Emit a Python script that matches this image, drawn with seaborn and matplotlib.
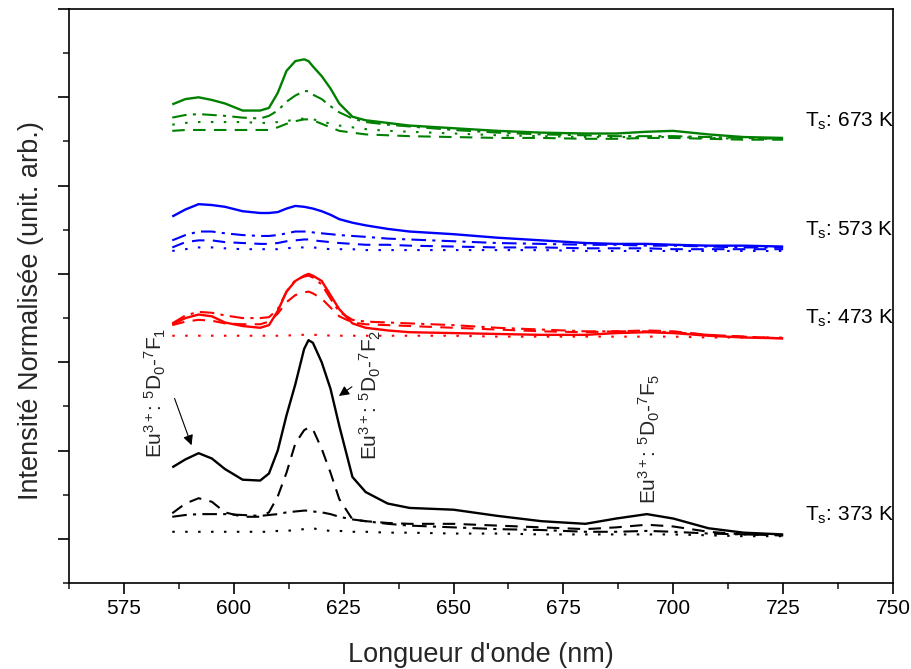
import numpy as np
import pandas as pd
import matplotlib
matplotlib.use("Agg")
import matplotlib.pyplot as plt
from matplotlib.ticker import MultipleLocator
import seaborn as sns

# Wavelength grid (nm) shared by all spectra
wavelength = [586, 589, 592, 595, 598, 602, 606, 608, 610, 612, 614, 616, 617, 618, 620,
              622, 624, 627, 630, 635, 640, 650, 660, 670, 680, 687, 694, 700, 708, 716, 725]

# Ts = 373 K (black)
k373_solid = [0.81, 0.90, 0.97, 0.91, 0.79, 0.67, 0.66, 0.74, 1.00, 1.40, 1.75, 2.15, 2.25, 2.22, 2.00,
              1.70, 1.28, 0.70, 0.53, 0.40, 0.35, 0.33, 0.26, 0.20, 0.17, 0.23, 0.28, 0.23, 0.12, 0.07, 0.05]
k373_dash = [0.29, 0.40, 0.46, 0.42, 0.30, 0.25, 0.25, 0.30, 0.48, 0.75, 1.08, 1.23, 1.26, 1.24, 1.02,
             0.75, 0.45, 0.22, 0.20, 0.18, 0.17, 0.17, 0.15, 0.13, 0.11, 0.13, 0.16, 0.14, 0.08, 0.05, 0.04]
k373_dashdot = [0.25, 0.27, 0.28, 0.28, 0.28, 0.27, 0.26, 0.27, 0.28, 0.30, 0.31, 0.32, 0.32, 0.31, 0.30,
                0.28, 0.25, 0.22, 0.20, 0.17, 0.15, 0.13, 0.11, 0.10, 0.08, 0.08, 0.09, 0.08, 0.06, 0.05, 0.04]
k373_dot = [0.08, 0.08, 0.08, 0.08, 0.08, 0.08, 0.08, 0.08, 0.09, 0.09, 0.10, 0.11, 0.12, 0.12, 0.10,
            0.09, 0.09, 0.08, 0.08, 0.07, 0.07, 0.06, 0.06, 0.05, 0.05, 0.05, 0.05, 0.05, 0.04, 0.03, 0.03]

# Ts = 473 K (red)
k473_solid = [2.43, 2.50, 2.54, 2.52, 2.45, 2.41, 2.39, 2.42, 2.58, 2.80, 2.92, 2.98, 3.00, 2.98, 2.92,
              2.76, 2.60, 2.44, 2.39, 2.36, 2.34, 2.33, 2.32, 2.31, 2.31, 2.33, 2.34, 2.33, 2.30, 2.28, 2.27]
k473_dash = [2.42, 2.46, 2.48, 2.47, 2.44, 2.43, 2.43, 2.46, 2.55, 2.68, 2.76, 2.79, 2.80, 2.78, 2.72,
             2.62, 2.52, 2.45, 2.43, 2.42, 2.41, 2.39, 2.37, 2.35, 2.34, 2.35, 2.36, 2.35, 2.31, 2.29, 2.27]
k473_dashdot = [2.44, 2.53, 2.57, 2.56, 2.53, 2.50, 2.50, 2.51, 2.60, 2.80, 2.93, 2.97, 2.98, 2.96, 2.88,
                2.72, 2.57, 2.48, 2.46, 2.45, 2.44, 2.42, 2.39, 2.37, 2.35, 2.35, 2.35, 2.34, 2.31, 2.29, 2.27]
k473_dot = [2.30, 2.30, 2.30, 2.30, 2.30, 2.30, 2.30, 2.30, 2.30, 2.30, 2.31, 2.31, 2.31, 2.31, 2.31,
            2.30, 2.30, 2.30, 2.30, 2.30, 2.30, 2.30, 2.29, 2.29, 2.29, 2.29, 2.29, 2.29, 2.28, 2.28, 2.28]

# Ts = 573 K (blue)
k573_solid = [3.65, 3.73, 3.79, 3.78, 3.76, 3.71, 3.69, 3.69, 3.70, 3.74, 3.77, 3.76, 3.75, 3.74, 3.71,
              3.67, 3.62, 3.58, 3.55, 3.51, 3.48, 3.45, 3.41, 3.38, 3.35, 3.34, 3.34, 3.33, 3.32, 3.32, 3.31]
k573_dashdot = [3.38, 3.44, 3.48, 3.48, 3.46, 3.44, 3.43, 3.43, 3.44, 3.46, 3.48, 3.48, 3.48, 3.47, 3.46,
                3.45, 3.44, 3.43, 3.42, 3.40, 3.39, 3.37, 3.35, 3.34, 3.33, 3.33, 3.32, 3.32, 3.31, 3.30, 3.30]
k573_dash = [3.30, 3.36, 3.38, 3.38, 3.36, 3.35, 3.34, 3.34, 3.35, 3.37, 3.38, 3.39, 3.39, 3.38, 3.37,
             3.36, 3.35, 3.34, 3.33, 3.33, 3.32, 3.31, 3.30, 3.30, 3.29, 3.29, 3.29, 3.28, 3.28, 3.28, 3.28]
k573_dot = [3.26, 3.28, 3.30, 3.30, 3.29, 3.28, 3.28, 3.28, 3.28, 3.29, 3.30, 3.30, 3.30, 3.30, 3.29,
            3.28, 3.28, 3.28, 3.27, 3.27, 3.27, 3.27, 3.27, 3.27, 3.26, 3.26, 3.26, 3.26, 3.26, 3.26, 3.26]

# Ts = 673 K (green)
k673_solid = [4.92, 4.98, 5.00, 4.97, 4.93, 4.85, 4.85, 4.88, 5.05, 5.30, 5.41, 5.43, 5.41, 5.35, 5.24,
              5.10, 4.93, 4.78, 4.74, 4.71, 4.68, 4.65, 4.62, 4.60, 4.59, 4.59, 4.61, 4.62, 4.58, 4.55, 4.54]
k673_dashdot = [4.77, 4.80, 4.81, 4.80, 4.79, 4.77, 4.76, 4.79, 4.85, 4.95, 5.02, 5.07, 5.07, 5.03, 4.98,
                4.90, 4.83, 4.76, 4.72, 4.69, 4.67, 4.63, 4.60, 4.58, 4.57, 4.56, 4.56, 4.56, 4.55, 4.54, 4.53]
k673_dot = [4.69, 4.71, 4.72, 4.72, 4.72, 4.72, 4.71, 4.71, 4.72, 4.73, 4.75, 4.76, 4.76, 4.75, 4.73,
            4.70, 4.68, 4.66, 4.64, 4.62, 4.61, 4.59, 4.57, 4.56, 4.55, 4.55, 4.55, 4.55, 4.54, 4.53, 4.53]
k673_dash = [4.62, 4.63, 4.63, 4.63, 4.63, 4.63, 4.63, 4.63, 4.66, 4.70, 4.73, 4.75, 4.75, 4.74, 4.70,
             4.66, 4.62, 4.60, 4.58, 4.57, 4.56, 4.55, 4.54, 4.54, 4.53, 4.53, 4.54, 4.54, 4.53, 4.52, 4.52]

temperatures = ["373", "473", "573", "673"]
colors = ["black", "#ff0000", "#0000ff", "#008000"]
label_y = [0.27, 2.50, 3.49, 4.73]

solid = (0, ())
dashed = (0, (6, 4))
dashdot = (0, (7, 3, 1.5, 3))
dotted = (0, (1.2, 5))

series = [
    (k373_solid, 0, solid), (k373_dash, 0, dashed), (k373_dashdot, 0, dashdot), (k373_dot, 0, dotted),
    (k473_dot, 1, dotted), (k473_dash, 1, dashed), (k473_dashdot, 1, dashdot), (k473_solid, 1, solid),
    (k573_solid, 2, solid), (k573_dashdot, 2, dashdot), (k573_dash, 2, dashed), (k573_dot, 2, dotted),
    (k673_solid, 3, solid), (k673_dashdot, 3, dashdot), (k673_dot, 3, dotted), (k673_dash, 3, dashed),
]

sns.set_theme(style="ticks")
plt.rcParams["font.family"] = ["Liberation Sans", "DejaVu Sans"]
plt.rcParams["mathtext.fontset"] = "custom"
plt.rcParams["mathtext.rm"] = "Liberation Sans"
plt.rcParams["mathtext.it"] = "Liberation Sans:italic"
plt.rcParams["mathtext.default"] = "regular"

fig = plt.figure(figsize=(9.11, 6.69), dpi=100)
ax = fig.add_axes([69 / 911, 1 - 583 / 669, (893 - 69) / 911, (583 - 9) / 669])

for vals, ti, ls in series:
    df = pd.DataFrame({"wl": wavelength, "I": vals})
    lw = 1.7 if ls == solid else 1.5
    sns.lineplot(data=df, x="wl", y="I", ax=ax, color=colors[ti], linestyle=ls,
                 linewidth=lw, estimator=None, sort=False)

for t, c, yy in zip(temperatures, colors, label_y):
    ax.text(730, yy, r"T$_s$: " + t + " K", fontsize=15, color="black",
            ha="left", va="center", clip_on=False)

# Eu3+ transition annotations
ax.text(582.2, 0.92, r"Eu$^{3+}$: $^5$D$_0$-$^7$F$_1$", rotation=90, fontsize=15,
        ha="center", va="bottom")
ax.annotate("", xy=(590.6, 1.03), xytext=(586.3, 1.62),
            arrowprops=dict(arrowstyle="-|>", color="black", lw=0.8, mutation_scale=15))
ax.text(631.0, 0.89, r"Eu$^{3+}$: $^5$D$_0$-$^7$F$_2$", rotation=90, fontsize=15,
        ha="center", va="bottom")
ax.annotate("", xy=(623.4, 1.60), xytext=(627.4, 1.74),
            arrowprops=dict(arrowstyle="-|>", color="black", lw=0.8, mutation_scale=15))
ax.text(694.5, 0.40, r"Eu$^{3+}$: $^5$D$_0$-$^7$F$_5$", rotation=90, fontsize=15,
        ha="center", va="bottom")

ax.set_xlim(562.5, 750)
ax.set_ylim(-0.5, 6.0)
ax.xaxis.set_major_locator(MultipleLocator(25))
ax.xaxis.set_minor_locator(MultipleLocator(12.5))
ax.yaxis.set_major_locator(MultipleLocator(1))
ax.yaxis.set_minor_locator(MultipleLocator(0.5))
ax.set_xticks([575, 600, 625, 650, 675, 700, 725, 750])
ax.set_yticklabels([])
ax.tick_params(axis="both", which="major", direction="out", length=8, width=1.2,
               labelsize=15, colors="black", top=False, right=False)
ax.tick_params(axis="both", which="minor", direction="out", length=4.5, width=1.2,
               top=False, right=False)
ax.tick_params(axis="y", which="both", labelleft=False)
for s in ax.spines.values():
    s.set_visible(True)
    s.set_color("black")
    s.set_linewidth(1.2)

ax.set_xlabel("Longueur d'onde (nm)", fontsize=19.5, labelpad=17)
ax.set_ylabel("Intensité Normalisée (unit. arb.)", fontsize=19.5)
ax.yaxis.set_label_coords(-0.030, 0.475)

fig.savefig("out.png", dpi=100)
